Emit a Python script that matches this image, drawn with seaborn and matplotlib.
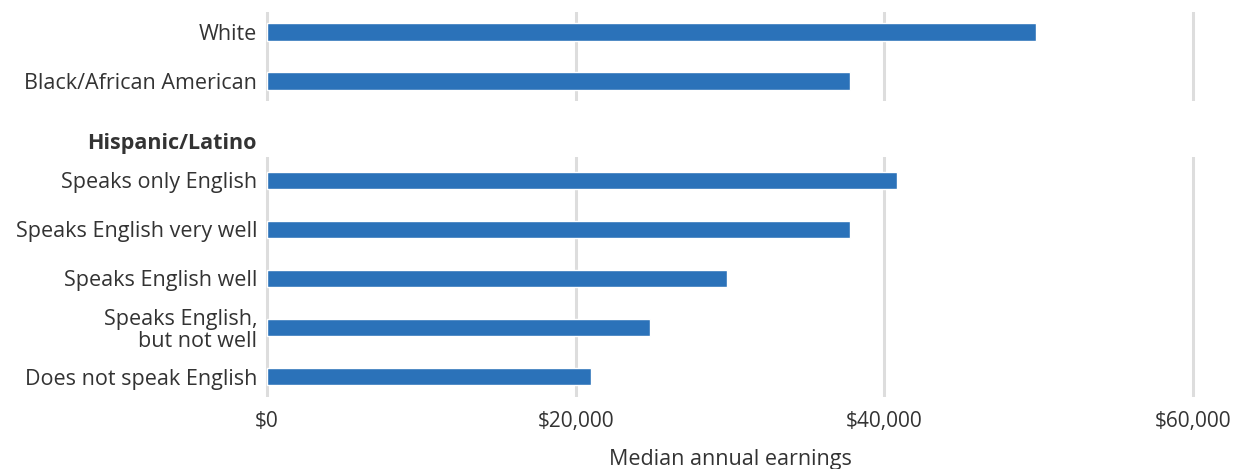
import matplotlib
matplotlib.use("Agg")
import matplotlib.pyplot as plt
import seaborn as sns
import pandas as pd

top_categories = ["White", "Black/African American"]
top_values = [49800, 37800]
group_label = "Hispanic/Latino"
hisp_categories = ["Speaks only English", "Speaks English very well", "Speaks English well",
                   "Speaks English,\nbut not well", "Does not speak English"]
hisp_values = [40800, 37800, 29800, 24800, 21000]
x_ticks = [0, 20000, 40000, 60000]
x_tick_labels = ["$0", "$20,000", "$40,000", "$60,000"]
x_label = "Median annual earnings"

sns.set_theme(style="white")
plt.rcParams['font.family'] = ['Open Sans', 'DejaVu Sans']

W, H = 1246, 469
fig = plt.figure(figsize=(W / 100, H / 100), dpi=100)

BAR = "#2B72B9"
GRID = "#dddddd"
TXT = "#333333"
FS = 15.5

px_per_unit = 926 / 60000
xl = (-5 / px_per_unit, 60000 + 5 / px_per_unit)

def make_ax(top_px, bot_px):
    return fig.add_axes([262 / W, 1 - bot_px / H, (1198 - 262) / W, (bot_px - top_px) / H])

ax1 = make_ax(12, 101)
ax2 = make_ax(157, 397)

df1 = pd.DataFrame({"cat": top_categories, "val": top_values})
df2 = pd.DataFrame({"cat": hisp_categories, "val": hisp_values})

for ax, df, lims in [(ax1, df1, (1.41, -0.41)), (ax2, df2, (4.41, -0.47))]:
    sns.barplot(data=df, x="val", y="cat", orient="h", color=BAR, width=0.35,
                saturation=1, ax=ax, zorder=3)
    ax.set_xlim(*xl)
    ax.set_ylim(*lims)
    for xt in x_ticks:
        ax.axvline(xt, color=GRID, lw=2.2, zorder=1)
    ax.grid(False)
    for s in ax.spines.values():
        s.set_visible(False)
    ax.set_ylabel("")
    ax.set_xlabel("")
    ax.tick_params(axis="y", length=0, pad=3.5, labelsize=FS, labelcolor=TXT)
    for lab in ax.get_yticklabels():
        lab.set_linespacing(1.05)

ax1.set_xticks([])
ax2.set_xticks(x_ticks)
ax2.set_xticklabels(x_tick_labels)
ax2.tick_params(axis="x", length=0, pad=10, labelsize=15, labelcolor=TXT)
ax2.set_xlabel(x_label, fontsize=FS, color=TXT, labelpad=12)

fig.text(257 / W, 1 - 143 / H, group_label, ha="right", va="center",
         fontsize=FS, fontweight="bold", color=TXT)

fig.savefig("out.png", dpi=100)
